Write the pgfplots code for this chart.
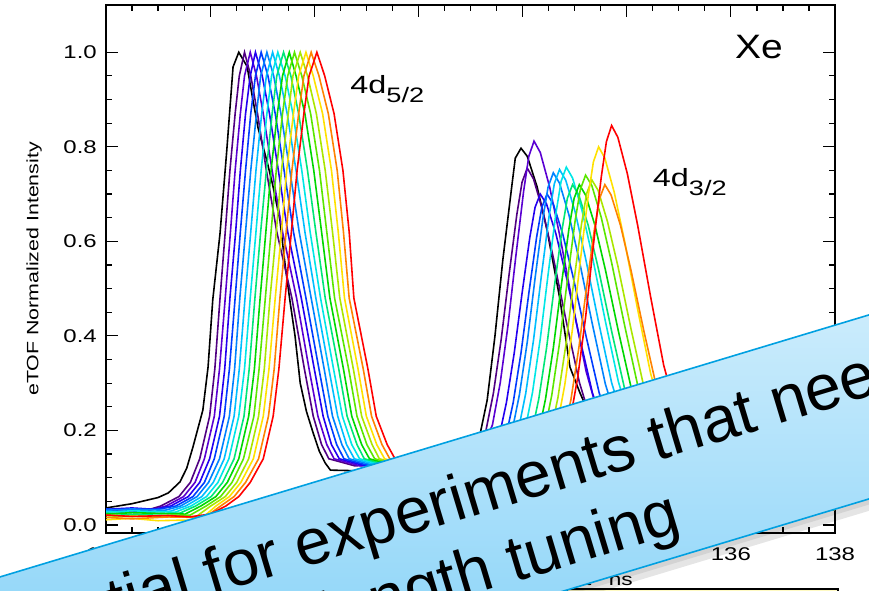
\documentclass[border=0pt]{standalone}
\usepackage{fontspec}
\setmainfont{Liberation Sans}
\newfontfamily\axfont[FakeStretch=1.3]{Liberation Sans}
\newfontfamily\lblfont[FakeStretch=1.15]{Liberation Sans}
\usepackage{pgfplots}
\pgfplotsset{compat=1.18}
\definecolor{c0}{RGB}{0,0,0}
\definecolor{c1}{RGB}{80,0,130}
\definecolor{c2}{RGB}{90,0,210}
\definecolor{c3}{RGB}{35,0,240}
\definecolor{c4}{RGB}{0,60,255}
\definecolor{c5}{RGB}{0,130,255}
\definecolor{c6}{RGB}{0,190,255}
\definecolor{c7}{RGB}{0,230,230}
\definecolor{c8}{RGB}{0,230,120}
\definecolor{c9}{RGB}{0,215,0}
\definecolor{c10}{RGB}{90,230,0}
\definecolor{c11}{RGB}{170,230,0}
\definecolor{c12}{RGB}{255,225,0}
\definecolor{c13}{RGB}{255,130,0}
\definecolor{c14}{RGB}{255,0,0}
\definecolor{bannertop}{RGB}{222,243,253}
\definecolor{bannerbot}{RGB}{115,203,247}
\definecolor{bannerline}{RGB}{0,160,225}
\definecolor{boxyellow}{RGB}{255,250,195}
\begin{document}
\begin{tikzpicture}
\useasboundingbox (0,0) rectangle (869bp,591bp);
\clip (0,0) rectangle (869bp,591bp);
\begin{axis}[
  at={(106bp,58bp)}, anchor=south west,
  scale only axis, width=729bp, height=528bp,
  xmin=124, xmax=138, ymin=-0.017, ymax=1.1,
  xtick={124,126,128,130,132,134,136,138},
  xticklabels={124,126,128,130,132,134,136,138},
  ytick={0,0.2,0.4,0.6,0.8,1.0},
  yticklabels={0.0,0.2,0.4,0.6,0.8,1.0},
  minor x tick num=3, minor y tick num=3,
  tick align=inside, tick pos=both,
  xticklabel pos=lower, yticklabel pos=left,
  major tick length=12bp, minor tick length=6bp,
  every tick/.style={black, line width=1.2bp},
  axis line style={black, line width=1.5bp},
  xticklabel style={font=\axfont\fontsize{18.5}{20}\selectfont, inner sep=0pt, anchor=north, yshift=-14bp},
  yticklabel style={font=\axfont\fontsize{18.5}{20}\selectfont, inner sep=0pt, anchor=east, xshift=-9bp},
  ylabel={eTOF Normalized Intensity},
  ylabel style={font=\axfont\fontsize{16.5}{18}\selectfont, inner sep=0pt, at={(axis description cs:-0.0878,0.5)}, anchor=south},
  xlabel={Time of flight\quad ns},
  xlabel style={font=\axfont\fontsize{17.5}{20}\selectfont, inner sep=0pt, at={(axis description cs:0.7229,-0.0758)}, anchor=north east},
  every axis plot/.append style={line width=1.6bp},
]
% black
\addplot[c0] coordinates {(124.0,0.036)(124.5,0.045)(125.0,0.058)(125.2,0.068)(125.42,0.091)(125.55,0.12)(125.67,0.165)(125.86,0.243)(125.96,0.334)(126.05,0.476)(126.19,0.617)(126.32,0.793)(126.44,0.969)(126.55,1.0)(126.71,0.97)(126.82,0.90)(126.92,0.84)(127.09,0.77)(127.20,0.72)(127.34,0.645)(127.44,0.55)(127.53,0.476)(127.63,0.40)(127.73,0.30)(127.85,0.24)(127.98,0.194)(128.10,0.155)(128.21,0.131)(128.31,0.116)(128.7,0.115)(129.5,0.115)(130.3,0.12)(130.8,0.15)(131.18,0.19)(131.32,0.264)(131.47,0.40)(131.62,0.56)(131.80,0.723)(131.86,0.776)(131.97,0.797)(132.09,0.78)(132.28,0.715)(132.47,0.624)(132.72,0.476)(132.91,0.334)(133.10,0.28)(133.5,0.18)(134.0,0.11)(134.5,0.07)(135.5,0.045)(138,0.035)};
% 1
\addplot[c1] coordinates {(124.0,0.030)(124.5,0.034)(124.75,0.030)(125.05,0.04)(125.40,0.06)(125.62,0.09)(125.80,0.14)(125.99,0.23)(126.09,0.33)(126.19,0.48)(126.29,0.62)(126.38,0.75)(126.48,0.87)(126.56,0.95)(126.66,1.0)(126.78,0.95)(126.91,0.87)(127.08,0.75)(127.28,0.62)(127.57,0.48)(127.81,0.33)(127.98,0.23)(128.14,0.17)(128.28,0.14)(128.78,0.125)(130.99,0.14)(131.29,0.196)(131.44,0.279)(131.59,0.393)(131.74,0.529)(131.89,0.657)(131.99,0.725)(132.09,0.755)(132.21,0.732)(132.39,0.664)(132.59,0.566)(132.84,0.430)(133.09,0.302)(133.34,0.211)(133.59,0.151)(134.09,0.10)(134.69,0.06)(137.2,0.04)(138,0.033)};
% 2
\addplot[c2] coordinates {(124.0,0.031)(124.5,0.027)(124.85,0.031)(125.15,0.04)(125.49,0.06)(125.71,0.09)(125.89,0.14)(126.08,0.23)(126.18,0.33)(126.29,0.48)(126.39,0.62)(126.48,0.75)(126.58,0.87)(126.66,0.95)(126.77,1.0)(126.89,0.95)(127.02,0.87)(127.19,0.75)(127.39,0.62)(127.66,0.48)(127.90,0.33)(128.07,0.23)(128.24,0.17)(128.38,0.14)(128.88,0.125)(131.12,0.14)(131.42,0.211)(131.57,0.300)(131.72,0.422)(131.87,0.568)(132.02,0.706)(132.12,0.780)(132.22,0.812)(132.34,0.788)(132.52,0.715)(132.72,0.609)(132.97,0.463)(133.22,0.325)(133.47,0.227)(133.72,0.162)(134.22,0.10)(134.82,0.06)(137.2,0.04)(138,0.033)};
% 3
\addplot[c3] coordinates {(124.0,0.033)(124.5,0.036)(124.94,0.033)(125.24,0.04)(125.58,0.06)(125.80,0.09)(125.99,0.14)(126.18,0.23)(126.28,0.33)(126.38,0.48)(126.49,0.62)(126.58,0.75)(126.68,0.87)(126.77,0.95)(126.87,1.0)(127.00,0.95)(127.14,0.87)(127.31,0.75)(127.49,0.62)(127.75,0.48)(128.00,0.33)(128.17,0.23)(128.33,0.17)(128.48,0.14)(128.98,0.125)(131.24,0.14)(131.54,0.182)(131.69,0.259)(131.84,0.364)(131.99,0.490)(132.14,0.609)(132.24,0.672)(132.34,0.700)(132.46,0.679)(132.64,0.616)(132.84,0.525)(133.09,0.399)(133.34,0.280)(133.59,0.196)(133.84,0.140)(134.34,0.10)(134.94,0.06)(137.2,0.04)(138,0.033)};
% 4
\addplot[c4] coordinates {(124.0,0.034)(124.5,0.031)(125.04,0.034)(125.34,0.04)(125.67,0.06)(125.89,0.09)(126.08,0.14)(126.27,0.23)(126.37,0.33)(126.48,0.48)(126.58,0.62)(126.68,0.75)(126.78,0.87)(126.87,0.95)(126.98,1.0)(127.11,0.95)(127.25,0.87)(127.42,0.75)(127.60,0.62)(127.84,0.48)(128.09,0.33)(128.26,0.23)(128.43,0.17)(128.57,0.14)(129.07,0.125)(131.37,0.14)(131.67,0.182)(131.82,0.259)(131.97,0.364)(132.12,0.490)(132.27,0.609)(132.37,0.672)(132.47,0.700)(132.59,0.679)(132.77,0.616)(132.97,0.525)(133.22,0.399)(133.47,0.280)(133.72,0.196)(133.97,0.140)(134.47,0.10)(135.07,0.06)(137.2,0.04)(138,0.033)};
% 5
\addplot[c5] coordinates {(124.0,0.031)(124.5,0.034)(125.13,0.031)(125.43,0.04)(125.75,0.06)(125.97,0.09)(126.18,0.14)(126.37,0.23)(126.47,0.33)(126.57,0.48)(126.68,0.62)(126.78,0.75)(126.89,0.87)(126.97,0.95)(127.09,1.0)(127.22,0.95)(127.36,0.87)(127.53,0.75)(127.71,0.62)(127.94,0.48)(128.19,0.33)(128.35,0.23)(128.53,0.17)(128.67,0.14)(129.17,0.125)(131.49,0.14)(131.79,0.194)(131.94,0.276)(132.09,0.387)(132.24,0.522)(132.39,0.648)(132.49,0.715)(132.59,0.745)(132.71,0.723)(132.89,0.656)(133.09,0.559)(133.34,0.425)(133.59,0.298)(133.84,0.209)(134.09,0.149)(134.59,0.10)(135.19,0.06)(137.2,0.04)(138,0.033)};
% 6
\addplot[c6] coordinates {(124.0,0.029)(124.5,0.026)(125.23,0.029)(125.53,0.04)(125.84,0.06)(126.06,0.09)(126.27,0.14)(126.46,0.23)(126.56,0.33)(126.67,0.48)(126.78,0.62)(126.88,0.75)(126.99,0.87)(127.08,0.95)(127.20,1.0)(127.33,0.95)(127.48,0.87)(127.65,0.75)(127.82,0.62)(128.03,0.48)(128.28,0.33)(128.45,0.23)(128.62,0.17)(128.77,0.14)(129.27,0.125)(131.61,0.14)(131.91,0.196)(132.06,0.278)(132.21,0.391)(132.36,0.526)(132.51,0.654)(132.61,0.722)(132.71,0.752)(132.83,0.729)(133.01,0.662)(133.21,0.564)(133.46,0.429)(133.71,0.301)(133.96,0.211)(134.21,0.150)(134.71,0.10)(135.31,0.06)(137.2,0.04)(138,0.033)};
% 7
\addplot[c7] coordinates {(124.0,0.027)(124.5,0.030)(125.33,0.027)(125.63,0.04)(125.93,0.06)(126.15,0.09)(126.36,0.14)(126.55,0.23)(126.66,0.33)(126.77,0.48)(126.88,0.62)(126.98,0.75)(127.09,0.87)(127.18,0.95)(127.30,1.0)(127.44,0.95)(127.59,0.87)(127.76,0.75)(127.92,0.62)(128.12,0.48)(128.37,0.33)(128.54,0.23)(128.72,0.17)(128.87,0.14)(129.37,0.125)(131.74,0.14)(132.04,0.197)(132.19,0.280)(132.34,0.394)(132.49,0.530)(132.64,0.659)(132.74,0.727)(132.84,0.757)(132.96,0.734)(133.14,0.666)(133.34,0.568)(133.59,0.431)(133.84,0.303)(134.09,0.212)(134.34,0.151)(134.84,0.10)(135.44,0.06)(137.2,0.04)(138,0.033)};
% 8
\addplot[c8] coordinates {(124.0,0.025)(124.5,0.022)(125.42,0.025)(125.72,0.04)(126.02,0.06)(126.24,0.09)(126.46,0.14)(126.65,0.23)(126.75,0.33)(126.86,0.48)(126.97,0.62)(127.08,0.75)(127.19,0.87)(127.28,0.95)(127.41,1.0)(127.55,0.95)(127.70,0.87)(127.87,0.75)(128.03,0.62)(128.21,0.48)(128.47,0.33)(128.63,0.23)(128.82,0.17)(128.96,0.14)(129.46,0.125)(131.86,0.14)(132.16,0.187)(132.31,0.266)(132.46,0.374)(132.61,0.504)(132.76,0.626)(132.86,0.691)(132.96,0.720)(133.08,0.698)(133.26,0.634)(133.46,0.540)(133.71,0.410)(133.96,0.288)(134.21,0.202)(134.46,0.144)(134.96,0.10)(135.56,0.06)(137.2,0.04)(138,0.033)};
% 9
\addplot[c9] coordinates {(124.0,0.023)(124.5,0.026)(125.52,0.023)(125.82,0.04)(126.11,0.06)(126.33,0.09)(126.55,0.14)(126.74,0.23)(126.85,0.33)(126.96,0.48)(127.07,0.62)(127.17,0.75)(127.29,0.87)(127.39,0.95)(127.52,1.0)(127.65,0.95)(127.82,0.87)(127.99,0.75)(128.14,0.62)(128.30,0.48)(128.56,0.33)(128.72,0.23)(128.91,0.17)(129.06,0.14)(129.56,0.125)(131.99,0.14)(132.29,0.187)(132.44,0.266)(132.59,0.374)(132.74,0.504)(132.89,0.626)(132.99,0.691)(133.09,0.720)(133.21,0.698)(133.39,0.634)(133.59,0.540)(133.84,0.410)(134.09,0.288)(134.34,0.202)(134.59,0.144)(135.09,0.10)(135.69,0.06)(137.2,0.04)(138,0.033)};
% 10
\addplot[c10] coordinates {(124.0,0.021)(124.5,0.018)(125.62,0.021)(125.92,0.04)(126.20,0.06)(126.42,0.09)(126.64,0.14)(126.84,0.23)(126.94,0.33)(127.06,0.48)(127.17,0.62)(127.27,0.75)(127.39,0.87)(127.49,0.95)(127.62,1.0)(127.76,0.95)(127.93,0.87)(128.10,0.75)(128.24,0.62)(128.39,0.48)(128.66,0.33)(128.82,0.23)(129.01,0.17)(129.16,0.14)(129.66,0.125)(132.11,0.14)(132.41,0.192)(132.56,0.274)(132.71,0.385)(132.86,0.518)(133.01,0.644)(133.11,0.710)(133.21,0.740)(133.33,0.718)(133.51,0.651)(133.71,0.555)(133.96,0.422)(134.21,0.296)(134.46,0.207)(134.71,0.148)(135.21,0.10)(135.81,0.06)(137.2,0.04)(138,0.033)};
% 11
\addplot[c11] coordinates {(124.0,0.016)(124.5,0.019)(125.71,0.016)(126.01,0.04)(126.29,0.06)(126.51,0.09)(126.74,0.14)(126.93,0.23)(127.04,0.33)(127.15,0.48)(127.27,0.62)(127.37,0.75)(127.50,0.87)(127.59,0.95)(127.73,1.0)(127.87,0.95)(128.04,0.87)(128.21,0.75)(128.35,0.62)(128.49,0.48)(128.75,0.33)(128.91,0.23)(129.11,0.17)(129.25,0.14)(129.75,0.125)(132.23,0.14)(132.53,0.190)(132.68,0.270)(132.83,0.380)(132.98,0.511)(133.13,0.635)(133.23,0.701)(133.33,0.730)(133.45,0.708)(133.63,0.642)(133.83,0.548)(134.08,0.416)(134.33,0.292)(134.58,0.204)(134.83,0.146)(135.33,0.10)(135.93,0.06)(137.2,0.04)(138,0.033)};
% 12
\addplot[c12] coordinates {(124.0,0.011)(124.5,0.014)(125.0,0.009)(125.81,0.011)(126.11,0.04)(126.37,0.06)(126.59,0.09)(126.83,0.14)(127.02,0.23)(127.13,0.33)(127.25,0.48)(127.37,0.62)(127.47,0.75)(127.60,0.87)(127.70,0.95)(127.84,1.0)(127.98,0.95)(128.16,0.87)(128.33,0.75)(128.46,0.62)(128.58,0.48)(128.84,0.33)(129.00,0.23)(129.20,0.17)(129.35,0.14)(129.85,0.125)(132.36,0.14)(132.66,0.208)(132.81,0.296)(132.96,0.416)(133.11,0.560)(133.26,0.696)(133.36,0.768)(133.46,0.800)(133.58,0.776)(133.76,0.704)(133.96,0.600)(134.21,0.456)(134.46,0.320)(134.71,0.224)(134.96,0.160)(135.46,0.10)(136.06,0.06)(137.2,0.04)(138,0.033)};
% 13
\addplot[c13] coordinates {(124.0,0.016)(124.5,0.013)(125.2,0.017)(125.90,0.016)(126.20,0.04)(126.46,0.06)(126.68,0.09)(126.93,0.14)(127.12,0.23)(127.23,0.33)(127.34,0.48)(127.46,0.62)(127.57,0.75)(127.70,0.87)(127.80,0.95)(127.94,1.0)(128.09,0.95)(128.27,0.87)(128.44,0.75)(128.56,0.62)(128.67,0.48)(128.94,0.33)(129.10,0.23)(129.30,0.17)(129.45,0.14)(129.95,0.125)(132.48,0.14)(132.78,0.187)(132.93,0.266)(133.08,0.374)(133.23,0.504)(133.38,0.626)(133.48,0.691)(133.58,0.720)(133.70,0.698)(133.88,0.634)(134.08,0.540)(134.33,0.410)(134.58,0.288)(134.83,0.202)(135.08,0.144)(135.58,0.10)(136.18,0.06)(137.2,0.04)(138,0.033)};
% 14
\addplot[c14] coordinates {(124.0,0.021)(124.5,0.018)(125.2,0.020)(125.6,0.017)(126.0,0.023)(126.30,0.04)(126.55,0.06)(126.77,0.09)(127.02,0.14)(127.21,0.23)(127.32,0.33)(127.44,0.48)(127.56,0.62)(127.67,0.75)(127.80,0.87)(127.90,0.95)(128.05,1.0)(128.20,0.95)(128.38,0.87)(128.55,0.75)(128.67,0.62)(128.76,0.48)(129.03,0.33)(129.19,0.23)(129.40,0.17)(129.55,0.14)(130.05,0.125)(132.61,0.14)(132.91,0.220)(133.06,0.313)(133.21,0.439)(133.36,0.592)(133.51,0.735)(133.61,0.811)(133.71,0.845)(133.83,0.820)(134.01,0.744)(134.21,0.634)(134.46,0.482)(134.71,0.338)(134.96,0.237)(135.21,0.169)(135.71,0.10)(136.31,0.06)(137.2,0.04)(138,0.033)};
\node[font=\lblfont\fontsize{34}{36}\selectfont, anchor=base, inner sep=0pt] at (axis cs:136.54,0.987) {Xe};
\node[font=\axfont\fontsize{25}{27}\selectfont, anchor=base west, inner sep=0pt] at (axis cs:128.69,0.913) {4d\raisebox{-9bp}{\fontsize{21}{22}\selectfont 5/2}};
\node[font=\axfont\fontsize{25}{27}\selectfont, anchor=base west, inner sep=0pt] at (axis cs:134.50,0.715) {4d\raisebox{-9bp}{\fontsize{21}{22}\selectfont 3/2}};
\end{axis}
% yellow text box at the bottom
\draw[black, line width=1.5bp, fill=boxyellow] (567bp,2bp) rectangle (838bp,-12bp);
% banner
\begin{scope}[x=1bp, y=1bp, shift={(0bp,591bp)}, rotate=16.78]
  \fill[black, opacity=0.10] (-300,-728) rectangle (1100,-740);
  \fill[black, opacity=0.08] (-300,-728) rectangle (1100,-734);
  \shade[top color=bannertop, bottom color=bannerbot] (-300,-552.4) rectangle (1100,-728.6);
  \draw[bannerline, line width=1.6bp] (-300,-552.4) rectangle (1100,-728.6);
  \node[transform shape, anchor=base, inner sep=0pt, font=\fontsize{65}{75}\selectfont] at (258,-631) {Essential for experiments that need};
  \node[transform shape, anchor=base, inner sep=0pt, font=\fontsize{65}{75}\selectfont] at (240,-706) {wavelength tuning};
\end{scope}
\end{tikzpicture}
\end{document}
